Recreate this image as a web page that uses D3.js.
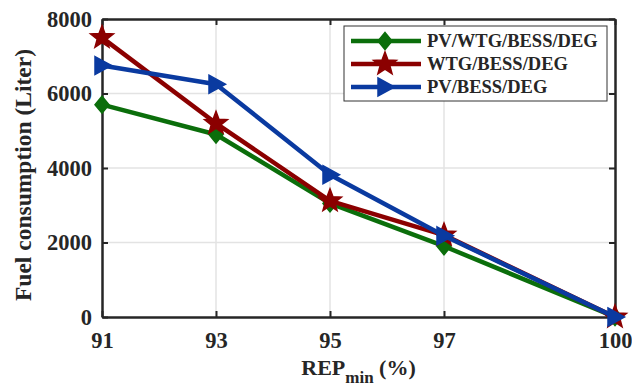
<!DOCTYPE html>
<html>
<head>
<meta charset="utf-8">
<script src="https://cdn.jsdelivr.net/npm/d3@7/dist/d3.min.js"></script>
<style>
  body { margin: 0; background: #fff; }
  svg text { font-family: "Liberation Serif", "Times New Roman", serif; font-weight: bold; fill: #262626; }
</style>
</head>
<body>
<svg id="chart"></svg>
<script>
var repMin = [91, 93, 95, 97, 100];
var xTicks = [91, 93, 95, 97, 100];
var yTicks = [0, 2000, 4000, 6000, 8000];

var seriesNames = ["PV/WTG/BESS/DEG", "WTG/BESS/DEG", "PV/BESS/DEG"];
var pvWtgBessDeg = [5700, 4900, 3050, 1900, 0];
var wtgBessDeg = [7500, 5200, 3120, 2200, 0];
var pvBessDeg = [6750, 6250, 3820, 2180, 0];
var seriesColors = ["#0b6e0b", "#8b0000", "#0a3aa0"];
var seriesMarkers = ["diamond", "star", "triangle"];

var width = 632, height = 386;
var margin = {left: 102, right: 17, top: 19, bottom: 69};

var svg = d3.select("#chart")
    .attr("width", width)
    .attr("height", height);

var x = d3.scaleLinear().domain([91, 100]).range([margin.left, width - margin.right]);
var y = d3.scaleLinear().domain([0, 8000]).range([height - margin.bottom, margin.top]);

var g = svg.append("g");

// grid
g.selectAll("line.gx")
    .data(xTicks.slice(1, -1))
    .enter().append("line")
    .attr("x1", d => x(d)).attr("x2", d => x(d))
    .attr("y1", y(0)).attr("y2", y(8000))
    .style("stroke", "#e3e3e3").style("stroke-width", 1.5);
g.selectAll("line.gy")
    .data(yTicks.slice(1, -1))
    .enter().append("line")
    .attr("x1", x(91)).attr("x2", x(100))
    .attr("y1", d => y(d)).attr("y2", d => y(d))
    .style("stroke", "#e3e3e3").style("stroke-width", 1.5);

// axes, ticks inward on all four sides
var axisStyle = function(sel) {
    sel.select(".domain").style("stroke", "#262626").style("stroke-width", 2.5);
    sel.selectAll(".tick line").style("stroke", "#262626").style("stroke-width", 2);
};

var xAxisBottom = g.append("g")
    .attr("transform", "translate(0," + y(0) + ")")
    .call(d3.axisBottom(x).tickValues(xTicks).tickSize(-6).tickSizeOuter(0).tickPadding(15));
xAxisBottom.call(axisStyle);
xAxisBottom.selectAll("text").style("font-size", "22.5px").attr("dy", "0.71em");

var xAxisTop = g.append("g")
    .attr("transform", "translate(0," + y(8000) + ")")
    .call(d3.axisTop(x).tickValues(xTicks).tickSize(-6).tickSizeOuter(0).tickFormat(""));
xAxisTop.call(axisStyle);

var yAxisLeft = g.append("g")
    .attr("transform", "translate(" + x(91) + ",0)")
    .call(d3.axisLeft(y).tickValues(yTicks).tickFormat(d3.format("d")).tickSize(-6).tickSizeOuter(0).tickPadding(10));
yAxisLeft.call(axisStyle);
yAxisLeft.selectAll("text").style("font-size", "22.5px");

var yAxisRight = g.append("g")
    .attr("transform", "translate(" + x(100) + ",0)")
    .call(d3.axisRight(y).tickValues(yTicks).tickSize(-6).tickSizeOuter(0).tickFormat(""));
yAxisRight.call(axisStyle);

// markers
var star5 = function(r) {
    var pts = [];
    for (var i = 0; i < 10; i++) {
        var a = -Math.PI / 2 + i * Math.PI / 5;
        var rr = i % 2 === 0 ? r : r * 0.42;
        pts.push([rr * Math.cos(a), rr * Math.sin(a)]);
    }
    return "M" + pts.map(p => p.join(",")).join("L") + "Z";
};
var markerPath = function(type) {
    if (type === "diamond") return "M0,-8.5L7,0L0,8.5L-7,0Z";
    if (type === "star") return star5(12);
    return "M-7,-9L9.5,0L-7,9Z";
};

var line = d3.line().x(d => x(d[0])).y(d => y(d[1]));
var allSeries = [pvWtgBessDeg, wtgBessDeg, pvBessDeg];

allSeries.forEach(function(vals, i) {
    var pts = repMin.map((r, j) => [r, vals[j]]);
    var sg = g.append("g");
    sg.append("path")
        .datum(pts)
        .attr("d", line)
        .style("fill", "none")
        .style("stroke", seriesColors[i])
        .style("stroke-width", 4.5)
        .style("stroke-linejoin", "round");
    sg.selectAll("path.m")
        .data(pts)
        .enter().append("path")
        .attr("transform", d => "translate(" + x(d[0]) + "," + y(d[1]) + ")")
        .attr("d", markerPath(seriesMarkers[i]))
        .style("fill", seriesColors[i])
        .style("stroke", seriesColors[i])
        .style("stroke-width", 1.5);
});

// legend
var lg = svg.append("g").attr("transform", "translate(344,26)");
lg.append("rect")
    .attr("width", 263).attr("height", 75)
    .style("fill", "#fff").style("stroke", "#333").style("stroke-width", 1);
seriesNames.forEach(function(name, i) {
    var ly = 15 + i * 23;
    lg.append("line")
        .attr("x1", 7).attr("x2", 77).attr("y1", ly).attr("y2", ly)
        .style("stroke", seriesColors[i]).style("stroke-width", 4.5);
    lg.append("path")
        .attr("transform", "translate(41," + ly + ")")
        .attr("d", markerPath(seriesMarkers[i]))
        .style("fill", seriesColors[i]).style("stroke", seriesColors[i]).style("stroke-width", 1.5);
    lg.append("text")
        .attr("x", 83).attr("y", ly).attr("dy", "0.35em")
        .style("font-size", "18.5px")
        .text(name);
});

// axis titles
svg.append("text")
    .attr("transform", "translate(31,175) rotate(-90)")
    .attr("text-anchor", "middle")
    .style("font-size", "23.5px")
    .text("Fuel consumption (Liter)");

var xt = svg.append("text")
    .attr("x", (x(91) + x(100)) / 2)
    .attr("y", 375)
    .attr("text-anchor", "middle")
    .style("font-size", "22px");
xt.append("tspan").text("REP");
xt.append("tspan").attr("dy", 8).style("font-size", "17px").text("min");
xt.append("tspan").attr("dy", -8).text(" (%)");
</script>
</body>
</html>
